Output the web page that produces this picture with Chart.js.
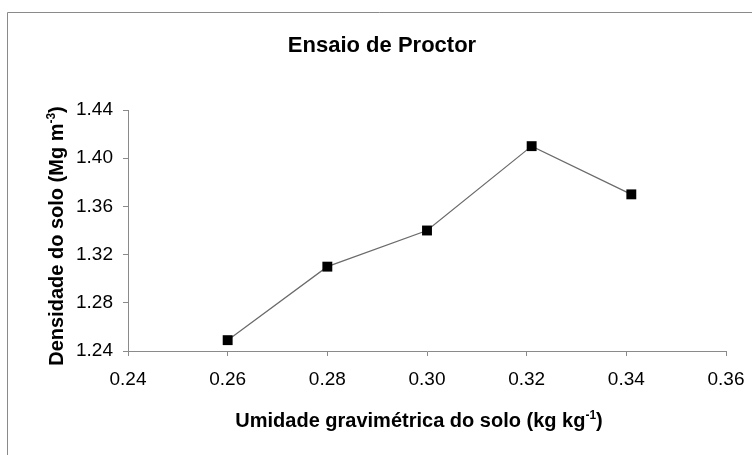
<!DOCTYPE html>
<html><head><meta charset="utf-8">
<script src="https://cdn.jsdelivr.net/npm/chart.js@4.4.1/dist/chart.umd.min.js"></script>
<style>html,body{margin:0;padding:0;background:#fff;}canvas{display:block;}</style>
</head><body>
<canvas id="c" width="752" height="455"></canvas>
<script>
const moisture = [0.26, 0.28, 0.30, 0.321, 0.341];
const density = [1.249, 1.31, 1.34, 1.41, 1.37];
const titleText = "Ensaio de Proctor";
const xTitle = ["Umidade gravimétrica do solo (kg kg", "-1", ")"];
const yTitle = ["Densidade do solo (Mg m", "-3", ")"];

const FONT = "'Liberation Sans', Arial, sans-serif";

function drawSup(ctx, parts, size) {
  const main = "bold " + size + "px " + FONT;
  const sup = "bold " + Math.round(size*0.6) + "px " + FONT;
  ctx.font = main; const w0 = ctx.measureText(parts[0]).width; const w2 = ctx.measureText(parts[2]).width;
  ctx.font = sup; const w1 = ctx.measureText(parts[1]).width;
  const total = w0 + w1 + w2;
  let x = -total/2;
  ctx.textAlign = "left"; ctx.textBaseline = "alphabetic";
  ctx.font = main; ctx.fillText(parts[0], x, 0); x += w0;
  ctx.font = sup; ctx.fillText(parts[1], x, -size*0.42); x += w1;
  ctx.font = main; ctx.fillText(parts[2], x, 0);
}

const decor = {
  id: 'decor',
  afterDraw(chart) {
    const ctx = chart.ctx;
    ctx.save();
    ctx.strokeStyle = "#8a8a8a"; ctx.lineWidth = 1;
    ctx.beginPath(); ctx.moveTo(7.5, 455); ctx.lineTo(7.5, 12.5); ctx.lineTo(752, 12.5); ctx.stroke();
    ctx.fillStyle = "#000";
    ctx.font = "bold 22px " + FONT; ctx.textAlign = "center"; ctx.textBaseline = "alphabetic";
    ctx.fillText(titleText, 382, 52);
    ctx.save(); ctx.translate(419, 427); drawSup(ctx, xTitle, 20); ctx.restore();
    ctx.save(); ctx.translate(63, 236); ctx.rotate(-Math.PI/2); drawSup(ctx, yTitle, 20); ctx.restore();
    ctx.restore();
  }
};

new Chart(document.getElementById('c'), {
  type: 'scatter',
  data: {
    datasets: [{
      data: moisture.map((x, i) => ({x: x, y: density[i]})),
      showLine: true,
      borderColor: '#6a6a6a', borderWidth: 1.2,
      pointStyle: 'rect', pointRadius: 7, pointHoverRadius: 7,
      pointBackgroundColor: '#000', pointBorderColor: '#000', pointBorderWidth: 0
    }]
  },
  options: {
    responsive: false, animation: false, devicePixelRatio: 1,
    layout: { padding: { left: 0, right: 26, top: 110, bottom: 0 } },
    plugins: { legend: { display: false }, tooltip: { enabled: false }, title: { display: false } },
    scales: {
      x: {
        type: 'linear', min: 0.24, max: 0.36,
        afterFit(s) { s.height = 104; s.paddingRight = 0; s.paddingLeft = 0; },
        border: { color: '#8a8a8a', width: 1 },
        grid: { display: true, drawOnChartArea: false, drawTicks: true, tickLength: 5, color: '#8a8a8a' },
        ticks: { stepSize: 0.02, color: '#000', font: { family: FONT, size: 19 }, padding: 12,
                 callback: v => v.toFixed(2), maxRotation: 0 }
      },
      y: {
        type: 'linear', min: 1.24, max: 1.44,
        afterFit(s) { s.width = 128; s.paddingTop = 0; s.paddingBottom = 0; },
        border: { color: '#8a8a8a', width: 1 },
        grid: { display: true, drawOnChartArea: false, drawTicks: true, tickLength: 5, color: '#8a8a8a' },
        ticks: { stepSize: 0.04, color: '#000', font: { family: FONT, size: 19 }, padding: 10,
                 callback: v => v.toFixed(2) }
      }
    }
  },
  plugins: [decor]
});
</script>
</body></html>
